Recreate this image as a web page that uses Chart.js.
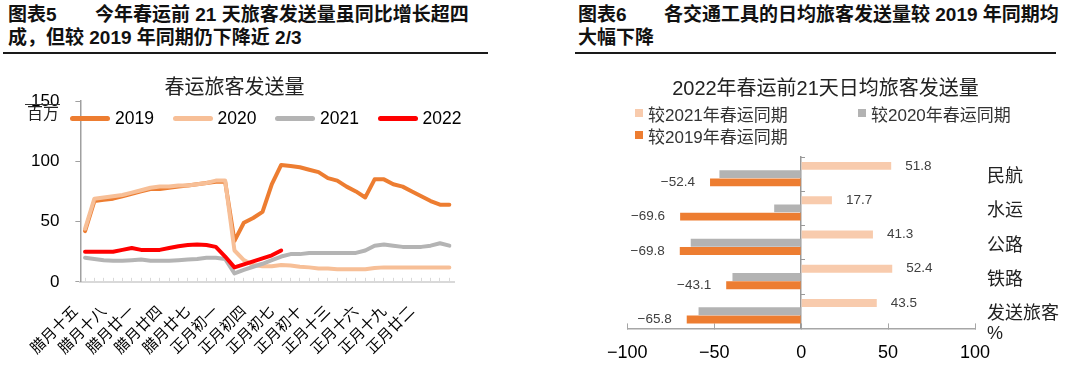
<!DOCTYPE html>
<html lang="zh-CN">
<head>
<meta charset="utf-8">
<title>春运旅客发送量</title>
<script src="https://cdn.jsdelivr.net/npm/chart.js@4.4.1/dist/chart.umd.min.js"></script>
<style>
  html, body { margin: 0; padding: 0; background: #fff; }
  body { width: 1086px; height: 377px; position: relative; overflow: hidden;
         font-family: "Liberation Sans", "Noto Sans CJK SC", sans-serif; color: #000; }
  .head { position: absolute; top: 3px; font-size: 19px; font-weight: bold; line-height: 23px; white-space: nowrap; color: #111; }
  .head .no { display: inline-block; }
  .rule { position: absolute; top: 52px; height: 2px; background: #1a1a1a; }
  canvas { position: absolute; top: 60px; }
  .unit { position: absolute; left: 25px; top: 104px; width: 35px; padding-left: 2px; box-sizing: border-box;
          border-top: 1px solid #333; font-size: 16px; line-height: 18px; color: #222; }
  #legendL { position: absolute; left: 70px; top: 108px; display: flex; }
  #legendL .item { display: inline-flex; align-items: center; width: 102.5px; height: 20px; font-size: 17.5px; }
  #legendL .swatch { width: 40px; height: 5px; border-radius: 3px; margin-right: 5px; }
  #legendR { position: absolute; left: 635px; top: 102px; display: grid; grid-template-columns: 223px 223px; }
  #legendR .item { display: flex; align-items: center; height: 22px; font-size: 17px; color: #333; }
  #legendR .swatch { width: 8px; height: 8px; margin-right: 5px; }
</style>
</head>
<body>
<div class="head" style="left:8px"><span class="no" style="width:87px">图表5</span>今年春运前 21 天旅客发送量虽同比增长超四<br>成，但较 2019 年同期仍下降近 2/3</div>
<div class="rule" style="left:3px;width:485px"></div>
<div class="head" style="left:578px"><span class="no" style="width:86px">图表6</span>各交通工具的日均旅客发送量较 2019 年同期均<br>大幅下降</div>
<div class="rule" style="left:575px;width:481px"></div>

<canvas id="lineChart" width="545" height="323" style="left:0"></canvas>
<canvas id="barChart" width="498" height="332" style="left:588px"></canvas>
<div class="unit">百万</div>
<div id="legendL"></div>
<div id="legendR"></div>

<script>
// 图表5：春运旅客发送量（百万），按农历日期对齐
const dates = ['腊月十五', '腊月十六', '腊月十七', '腊月十八', '腊月十九', '腊月二十', '腊月廿一', '腊月廿二',
  '腊月廿三', '腊月廿四', '腊月廿五', '腊月廿六', '腊月廿七', '腊月廿八', '腊月廿九', '正月初一', '正月初二',
  '正月初三', '正月初四', '正月初五', '正月初六', '正月初七', '正月初八', '正月初九', '正月初十', '正月十一',
  '正月十二', '正月十三', '正月十四', '正月十五', '正月十六', '正月十七', '正月十八', '正月十九', '正月二十',
  '正月廿一', '正月廿二', '正月廿三', '正月廿四', '正月廿五'];
const years = ['2019', '2020', '2021', '2022'];
const pax2019 = [42, 67, 68, 69, 71, 73, 75, 77, 77, 78, 79, 80, 81, 82, 83, 83,
  34, 49, 53, 58, 81, 97, 96, 95, 93, 91, 86, 84, 79, 75, 70, 85, 85, 81, 79, 75, 71, 67, 64, 64];
const pax2020 = [44, 69, 70, 71, 72, 74, 76, 78, 79, 79, 80, 80, 81, 82, 84, 84,
  26, 18, 14, 13, 13, 14, 13.5, 12.5, 12, 11, 11, 10.5, 10.5, 10.5, 10.5, 11.5, 12, 12, 12, 12, 12, 12, 12, 12];
const pax2021 = [20, 19, 18, 17.5, 17.5, 18, 18.5, 17.5, 17.5, 17.5, 18, 18.5, 19, 20, 20, 19,
  7, 10, 12.5, 15, 18, 21, 23, 23, 24, 24, 24, 24, 24, 24, 26, 30, 31, 30, 29, 29, 29, 30, 32, 30];
const pax2022 = [25, 25, 25, 25, 26.5, 28, 26.5, 26.5, 26.5, 28, 29.5, 30.5, 31, 30.5, 29,
  21, 12, 14.5, 17, 19.5, 22, 26];
const paxTicks = [0, 50, 100, 150];

// 图表6：2022年春运前21天日均旅客发送量同比（%）
const modes = ['民航', '水运', '公路', '铁路', '发送旅客%'];
const cmpNames = ['较2021年春运同期', '较2020年春运同期', '较2019年春运同期'];
const vs2021 = [51.8, 17.7, 41.3, 52.4, 43.5];
const vs2020 = [-47.0, -15.5, -63.5, -39.5, -59.0];
const vs2019 = [-52.4, -69.6, -69.8, -43.1, -65.8];
const pctTicks = [-100, -50, 0, 50, 100];

const lineColors = ['#ED7D31', '#F7BF97', '#B4B4B4', '#FF0000'];
const barColors = ['#F8CBAD', '#B3B3B3', '#ED7D31'];
const family = '"Liberation Sans", "Noto Sans CJK SC", sans-serif';
const minus = s => String(s).replace('-', '\u2212');

// 折线图
const lineChart = new Chart(document.getElementById('lineChart'), {
  type: 'line',
  data: {
    labels: dates,
    datasets: [pax2019, pax2020, pax2021, pax2022].map((d, i) => ({
      label: years[i],
      data: d,
      borderColor: lineColors[i],
      backgroundColor: lineColors[i],
      borderWidth: 4,
      pointRadius: 0,
      borderCapStyle: 'round',
      borderJoinStyle: 'round',
      tension: 0,
      order: years.length - i
    }))
  },
  options: {
    responsive: false,
    animation: false,
    layout: { padding: { left: 15, right: 91, bottom: 0 } },
    plugins: {
      legend: { display: false },
      tooltip: { enabled: false },
      title: {
        display: true, text: '春运旅客发送量', color: '#222',
        font: { size: 20, weight: 'normal', family },
        padding: { top: 16, bottom: 1 }
      }
    },
    scales: {
      x: {
        offset: true,
        border: { color: '#d9d9d9', width: 2 },
        grid: { drawOnChartArea: false, tickLength: -4, tickColor: '#d9d9d9' },
        ticks: {
          autoSkip: false, minRotation: 45, maxRotation: 45, padding: 25, labelOffset: -9,
          color: '#000', font: { size: 15, family },
          callback: (v, i) => (i % 3 === 0 && i < dates.length - 3 ? dates[i] : '')
        }
      },
      y: {
        min: paxTicks[0],
        max: paxTicks[paxTicks.length - 1],
        border: { color: '#a0a0a0', width: 1.5 },
        grid: { drawOnChartArea: false, tickLength: 5, color: '#a0a0a0' },
        ticks: { stepSize: paxTicks[1] - paxTicks[0], padding: 16, color: '#000', font: { size: 17, family } }
      }
    }
  }
});

// 条形图数值标签（仅 2021、2019 两组）
const valueLabels = {
  id: 'valueLabels',
  afterDatasetsDraw(chart) {
    const ctx = chart.ctx;
    ctx.save();
    ctx.font = '13.5px ' + family;
    ctx.fillStyle = '#404040';
    ctx.textBaseline = 'middle';
    [0, 2].forEach(di => {
      chart.getDatasetMeta(di).data.forEach((bar, i) => {
        const v = chart.data.datasets[di].data[i];
        ctx.textAlign = v < 0 ? 'right' : 'left';
        ctx.fillText(minus(v.toFixed(1)), bar.x + (v < 0 ? -15 : 14), bar.y);
      });
    });
    ctx.restore();
  }
};

const barChart = new Chart(document.getElementById('barChart'), {
  type: 'bar',
  data: {
    labels: modes,
    datasets: [vs2021, vs2020, vs2019].map((d, i) => ({
      label: cmpNames[i],
      data: d,
      backgroundColor: barColors[i],
      barPercentage: 0.96,
      categoryPercentage: 0.72
    }))
  },
  options: {
    indexAxis: 'y',
    responsive: false,
    animation: false,
    layout: { padding: { left: 4, right: 27, bottom: 9 } },
    plugins: {
      legend: { display: false },
      tooltip: { enabled: false },
      title: {
        display: true, text: '2022年春运前21天日均旅客发送量', color: '#222',
        font: { size: 20, weight: 'normal', family },
        padding: { top: 17, bottom: 56 }
      }
    },
    scales: {
      x: {
        min: pctTicks[0],
        max: pctTicks[pctTicks.length - 1],
        border: { color: '#a6a6a6', width: 1.5 },
        grid: { drawOnChartArea: false, tickLength: -5, color: '#a6a6a6' },
        ticks: { stepSize: pctTicks[1] - pctTicks[0], padding: 19, color: '#000', font: { size: 18, family },
          callback: v => minus(v) }
      },
      y: {
        position: { x: 0 },
        offset: true,
        z: 1,
        border: { color: '#999', width: 1.5 },
        grid: { drawOnChartArea: false, offset: true, tickLength: -5, color: '#999' },
        ticks: { display: false }
      },
      y2: {
        type: 'category',
        position: 'right',
        offset: true,
        border: { display: false },
        grid: { display: false, drawTicks: true, tickLength: 12 },
        ticks: {
          autoSkip: false, padding: 0, labelOffset: 3, color: '#222', font: { size: 18, family, lineHeight: 1.1 },
          callback: (v, i) => {
            const m = modes[i];
            return m.endsWith('%') ? ['', m.slice(0, -1), '%'] : m;
          }
        }
      }
    }
  },
  plugins: [valueLabels]
});

// HTML 图例
function buildLegend(chart, el, useLine) {
  chart.data.datasets.forEach(ds => {
    const item = document.createElement('div');
    item.className = 'item';
    const sw = document.createElement('span');
    sw.className = 'swatch';
    sw.style.background = useLine ? ds.borderColor : ds.backgroundColor;
    item.appendChild(sw);
    item.appendChild(document.createTextNode(ds.label));
    el.appendChild(item);
  });
}
buildLegend(lineChart, document.getElementById('legendL'), true);
buildLegend(barChart, document.getElementById('legendR'), false);
</script>
</body>
</html>
